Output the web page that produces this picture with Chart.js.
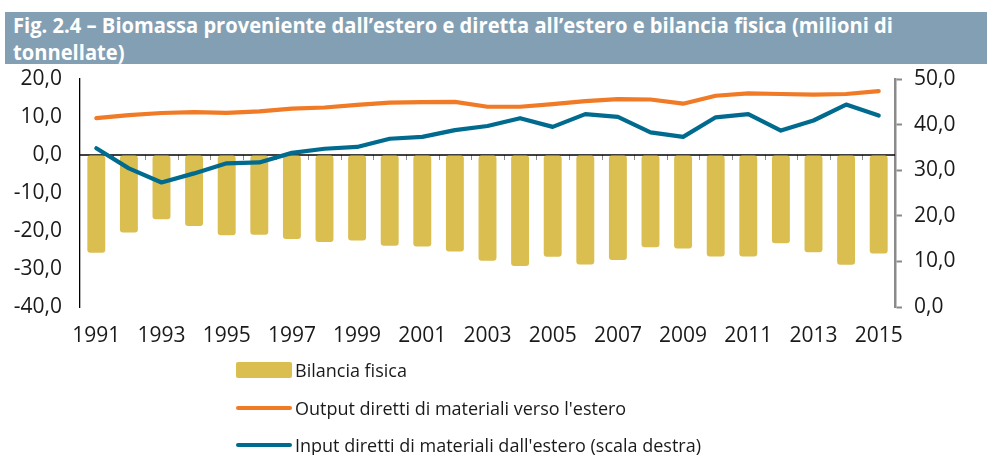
<!DOCTYPE html>
<html>
<head>
<meta charset="utf-8">
<script src="https://cdn.jsdelivr.net/npm/chart.js@4.4.1/dist/chart.umd.min.js"></script>
<style>
  html, body { margin:0; padding:0; background:#fff; }
  body { width:987px; height:455px; position:relative; overflow:hidden; font-family:"Open Sans", "Noto Sans", sans-serif; }
  #titlebar { position:absolute; left:5px; top:12px; width:982px; height:52px; background:#839FB4; }
  #title { position:absolute; left:13px; top:12px; color:#fff; font-family:"Liberation Sans Narrow","Open Sans",sans-serif; font-weight:bold; font-size:21px; line-height:27px; white-space:nowrap; transform-origin:0 0; }
  #wrap { position:absolute; left:0; top:0; width:987px; height:455px; }
  #legend { position:absolute; left:236px; top:0; font-size:18px; color:#1a1a1a; }
  .row { position:absolute; left:0; white-space:nowrap; height:20px; }
  .sw { position:absolute; left:0; width:56px; }
  .txt { position:absolute; left:59px; top:50%; transform:translateY(-50%); line-height:20px; }
</style>
</head>
<body>
<div id="titlebar"></div>
<div id="title"><span id="t1">Fig. 2.4 – Biomassa proveniente dall’estero e diretta all’estero e bilancia fisica (milioni di</span><br><span>tonnellate)</span></div>
<div id="wrap"><canvas id="c" width="987" height="455"></canvas></div>
<div id="legend"></div>
<script>
const years = ["1991","1992","1993","1994","1995","1996","1997","1998","1999","2000","2001","2002","2003","2004","2005","2006","2007","2008","2009","2010","2011","2012","2013","2014","2015"];
const bilanciaFisica = [-25.7,-20.4,-16.9,-18.7,-21.1,-21.0,-22.1,-22.9,-22.5,-23.9,-24.1,-25.4,-27.8,-29.2,-26.8,-28.8,-27.6,-24.3,-24.6,-26.7,-26.7,-23.2,-25.6,-28.9,-25.9];
const outputDiretti = [9.7,10.5,11.05,11.3,11.1,11.5,12.2,12.5,13.2,13.8,13.9,14.0,12.7,12.7,13.4,14.2,14.7,14.6,13.5,15.6,16.2,16.05,15.9,16.05,16.8];
const inputDiretti = [34.8,30.4,27.3,29.3,31.5,31.7,33.8,34.7,35.1,36.9,37.3,38.8,39.7,41.4,39.5,42.3,41.7,38.3,37.3,41.6,42.3,38.7,40.9,44.4,42.0];
const leftTicks = [-40,-30,-20,-10,0,10,20];
const rightTicks = [0,10,20,30,40,50];
const seriesNames = ["Bilancia fisica","Output diretti di materiali verso l'estero","Input diretti di materiali dall'estero (scala destra)"];
const colors = { bar:"#DBBE50", orange:"#F07A26", blue:"#006B8F" };

// scale title
(function(){
  const t1 = document.getElementById('t1');
  const w = t1.getBoundingClientRect().width;
  const s = 880 / w;
  document.getElementById('title').style.transform = 'scaleX(' + s + ')';
})();

const fmt = v => v.toFixed(1).replace('.', ',');

const zeroLinePlugin = {
  id:'zeroLine',
  beforeDatasetsDraw(chart){
    const {ctx, chartArea, scales} = chart;
    const y0 = scales.y.getPixelForValue(0);
    ctx.save();
    // boundary ticks
    ctx.strokeStyle = '#8a8a8a';
    ctx.lineWidth = 1;
    const n = years.length;
    for (let i = 0; i < n - 1; i++) {
      const xb = (scales.x.getPixelForValue(i) + scales.x.getPixelForValue(i+1)) / 2;
      ctx.beginPath();
      ctx.moveTo(Math.round(xb)+0.5, y0);
      ctx.lineTo(Math.round(xb)+0.5, y0 + 5);
      ctx.stroke();
    }
    ctx.strokeStyle = '#000';
    ctx.lineWidth = 1.3;
    ctx.beginPath();
    ctx.moveTo(chartArea.left, y0);
    ctx.lineTo(chartArea.right, y0);
    ctx.stroke();
    ctx.restore();
  }
};

const chart = new Chart(document.getElementById('c'), {
  data: {
    labels: years,
    datasets: [
      { type:'line', label:seriesNames[2], data:inputDiretti, yAxisID:'y1', borderColor:colors.blue, borderWidth:4.2, pointRadius:0, tension:0, order:1, borderCapStyle:'round', borderJoinStyle:'round' },
      { type:'line', label:seriesNames[1], data:outputDiretti, yAxisID:'y', borderColor:colors.orange, borderWidth:4.2, pointRadius:0, tension:0, order:2, borderCapStyle:'round', borderJoinStyle:'round' },
      { type:'bar', label:seriesNames[0], data:bilanciaFisica, yAxisID:'y', backgroundColor:colors.bar, borderRadius:3, borderSkipped:false, categoryPercentage:1, barPercentage:0.55, order:3 }
    ]
  },
  options: {
    responsive:false,
    animation:false,
    devicePixelRatio:1,
    layout:{ padding:{ top:79, left:0, right:0, bottom:0 } },
    plugins:{ legend:{display:false}, tooltip:{enabled:false}, title:{display:false} },
    scales:{
      x:{
        type:'category',
        offset:true,
        grid:{ display:false, drawTicks:false },
        border:{ display:false },
        ticks:{ autoSkip:false, maxRotation:0, padding:16, color:'#1a1a1a', font:{ family:'"Open Sans"', size:21 },
          callback:function(v, i){ return i % 2 === 0 ? years[i] : ''; } },
        afterFit(s){ s.height = 148; }
      },
      y:{
        position:'left',
        min:-40, max:20,
        afterBuildTicks(s){ s.ticks = leftTicks.map(v => ({value:v})); },
        grid:{ drawOnChartArea:false, drawTicks:false },
        border:{ display:true, color:'#000', width:1.3 },
        ticks:{ padding:18, color:'#1a1a1a', font:{ family:'"Open Sans"', size:21 }, callback:v => fmt(v) },
        afterFit(s){ s.width = 80; }
      },
      y1:{
        position:'right',
        min:0, max:50,
        afterBuildTicks(s){ s.ticks = rightTicks.map(v => ({value:v})); },
        grid:{ drawOnChartArea:false, drawTicks:true, tickLength:7, color:'#8a8a8a', tickColor:'#8a8a8a', tickWidth:2 },
        border:{ display:true, color:'#8a8a8a', width:2.5 },
        ticks:{ padding:12, color:'#1a1a1a', font:{ family:'"Open Sans"', size:21 }, callback:v => fmt(v) },
        afterFit(s){ s.width = 92; }
      }
    }
  },
  plugins:[zeroLinePlugin]
});

// legend built from chart datasets
(function(){
  const lg = document.getElementById('legend');
  const rows = [
    { ds: chart.data.datasets[2], y:370, kind:'bar' },
    { ds: chart.data.datasets[1], y:408, kind:'line' },
    { ds: chart.data.datasets[0], y:445, kind:'line' }
  ];
  rows.forEach(r => {
    const row = document.createElement('div');
    row.className = 'row';
    row.style.top = (r.y - 10) + 'px';
    const sw = document.createElement('div');
    sw.className = 'sw';
    if (r.kind === 'bar') {
      sw.style.height = '16px'; sw.style.top = '2px'; sw.style.background = r.ds.backgroundColor; sw.style.borderRadius = '2px';
    } else {
      sw.style.height = '4px'; sw.style.top = '8px'; sw.style.background = r.ds.borderColor; sw.style.borderRadius = '2px';
    }
    const tx = document.createElement('div');
    tx.className = 'txt';
    tx.textContent = r.ds.label;
    row.appendChild(sw); row.appendChild(tx);
    lg.appendChild(row);
  });
})();
</script>
</body>
</html>
